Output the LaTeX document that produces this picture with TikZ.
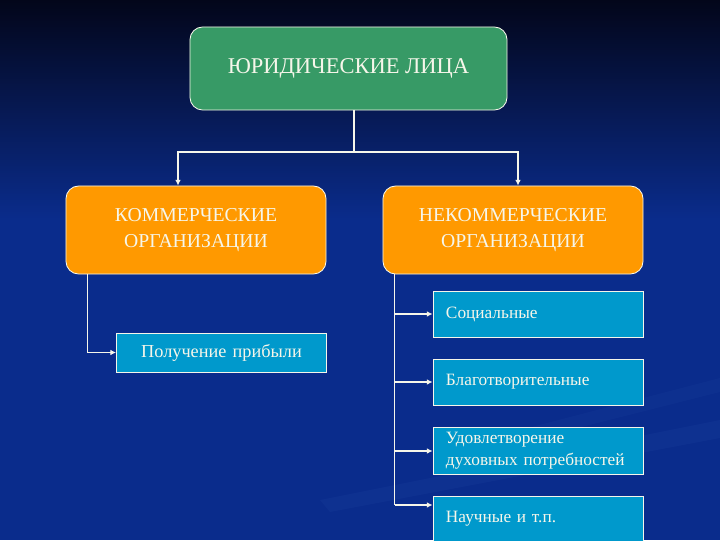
\documentclass[tikz,border=0pt]{standalone}
\usepackage{fontspec}
\setmainfont{Liberation Serif}
\usetikzlibrary{arrows.meta,positioning}
\definecolor{Night}{HTML}{03061A}
\definecolor{Deep}{HTML}{0A2C8C}
\definecolor{Streak}{HTML}{2A4FA8}
\definecolor{Leaf}{HTML}{379A66}
\definecolor{Amber}{HTML}{FF9900}
\definecolor{Sky}{HTML}{0099CC}
\definecolor{Chalk}{HTML}{F6F6EA}

\begin{document}
\begin{tikzpicture}[x=0.025cm,y=-0.025cm,
  rootbox/.style={draw=Chalk,fill=Leaf,line width=0.6pt,rounded corners=9pt,minimum width=7.925cm,minimum height=2.075cm,font=\fontsize{16}{19}\selectfont,text=Chalk},
  orgbox/.style={draw=Chalk,fill=Amber,line width=0.6pt,rounded corners=9pt,minimum width=6.5cm,minimum height=2.2cm,font=\fontsize{14}{18}\selectfont,text=Chalk,align=center},
  kindbox/.style={draw=Chalk,fill=Sky,line width=0.6pt,minimum width=5.25cm,minimum height=1.15cm,inner xsep=0.325cm,text width=4.6cm,align=left,font=\fontsize{12.3}{15.5}\selectfont,text=Chalk},
  link/.style={draw=Chalk,line width=1pt},
  arrowlink/.style={link,-{Latex[length=4pt,width=4pt]}}
]
\useasboundingbox (0,0) rectangle (720,540);
\clip (0,0) rectangle (720,540);
% background
\fill[Deep] (0,0) rectangle (720,540);
\shade[top color=Night,bottom color=Deep] (0,0) rectangle (720,220);
\fill[Streak,opacity=0.15] (320,500) -- (720,420) -- (720,438) -- (330,512) -- cycle;
\fill[Streak,opacity=0.12] (520,430) -- (720,378) -- (720,392) -- (530,440) -- cycle;
% boxes
\node[rootbox] (legal) at (348.5,68.5) {ЮРИДИЧЕСКИЕ ЛИЦА};
\node[orgbox] (comm) at (196,230) {КОММЕРЧЕСКИЕ\\ОРГАНИЗАЦИИ};
\node[orgbox] (noncomm) at (513,230) {НЕКОММЕРЧЕСКИЕ\\ОРГАНИЗАЦИИ};
\node[kindbox,minimum width=5.225cm,minimum height=0.975cm,align=center,font=\fontsize{13}{15.5}\selectfont] (profit) at (221.5,352.5) {Получение прибыли};
\node[kindbox] (social) at (538,314) {Социальные};
\node[kindbox] (charity) at (538,382) {Благотворительные};
\node[kindbox] (spirit) at (538,451) {Удовлетворение\\духовных потребностей};
\node[kindbox] (science) at (538,519) {Научные и т.п.};
% connectors
\coordinate (fork) at (354,152);
\coordinate (commtop) at ([xshift=-0.45cm]comm.north);
\coordinate (noncommtop) at ([xshift=0.125cm]noncomm.north);
\draw[link] (legal.south -| fork) -- (fork);
\draw[arrowlink] (fork) -| (commtop);
\draw[arrowlink] (fork) -| (noncommtop);
\draw[arrowlink] ([xshift=0.55cm]comm.south west) |- (profit.west);
\coordinate (trunk) at ([xshift=0.3cm]noncomm.south west);
\coordinate (sciencein) at ([yshift=0.35cm]science.west);
\draw[link] (trunk) -- (trunk |- sciencein);
\foreach \k in {social,charity,spirit}
  \draw[arrowlink] (trunk |- \k.west) -- (\k.west);
\draw[arrowlink] (trunk |- sciencein) -- (sciencein);
\end{tikzpicture}
\end{document}
